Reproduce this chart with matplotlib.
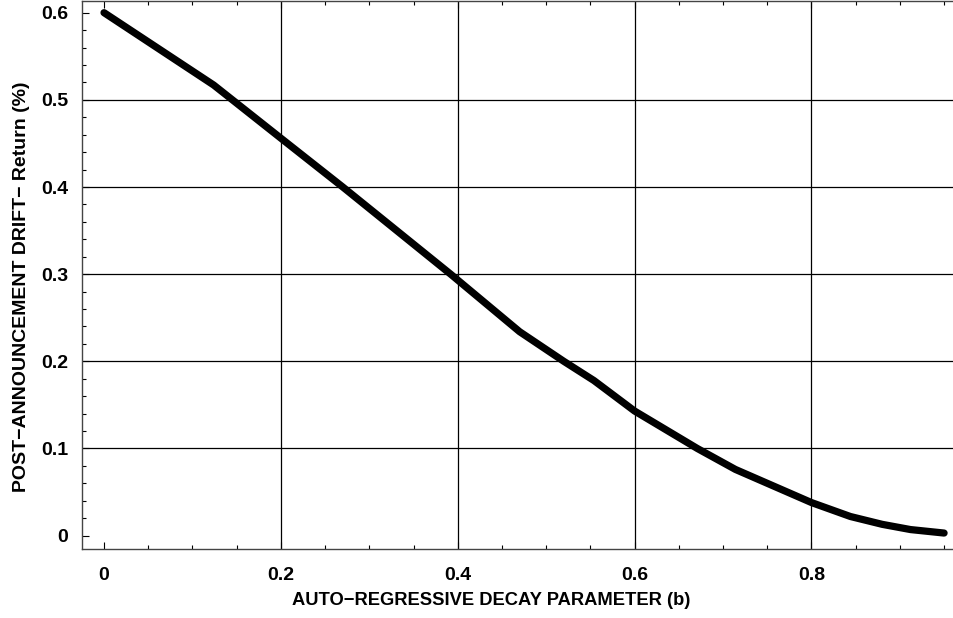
"""Post-announcement drift vs auto-regressive decay parameter (b)."""
import matplotlib
matplotlib.use("Agg")
import matplotlib.pyplot as plt
from matplotlib.ticker import MultipleLocator

plt.rcParams["font.family"] = ["Liberation Sans", "DejaVu Sans"]

# values
decay_b = [0.0, 0.124, 0.2, 0.27, 0.392, 0.47, 0.52, 0.554, 0.6,
           0.671, 0.714, 0.8, 0.844, 0.88, 0.912, 0.95]
drift_pct = [0.600, 0.517, 0.456, 0.400, 0.300, 0.234, 0.200, 0.178, 0.143,
             0.100, 0.076, 0.038, 0.022, 0.013, 0.007, 0.003]

x_ticks = [0, 0.2, 0.4, 0.6, 0.8]
y_ticks = [0, 0.1, 0.2, 0.3, 0.4, 0.5, 0.6]
x_ticklabels = ["0", "0.2", "0.4", "0.6", "0.8"]
y_ticklabels = ["0", "0.1", "0.2", "0.3", "0.4", "0.5", "0.6"]

W, H = 954, 618
fig = plt.figure(figsize=(W / 100, H / 100), dpi=100)
ax_w = 1 - 82 / W + 0.01
ax = fig.add_axes([82 / W, 1 - 549 / H, ax_w, 548 / H])

# interior grid lines only
for xv in x_ticks[1:]:
    ax.axvline(xv, color="black", lw=0.9, zorder=1)
for yv in y_ticks[1:-1]:
    ax.axhline(yv, color="black", lw=0.9, zorder=1)

ax.plot(decay_b, drift_pct, color="black", lw=5.2, solid_capstyle="round",
        solid_joinstyle="round", zorder=3)

ax.set_xlim(-0.0249, 0.972)
ax.set_ylim(-0.0153, 0.6134)
ax.set_xticks(x_ticks)
ax.set_xticklabels(x_ticklabels)
ax.set_yticks(y_ticks)
ax.set_yticklabels(y_ticklabels)
ax.xaxis.set_minor_locator(MultipleLocator(0.05))
ax.yaxis.set_minor_locator(MultipleLocator(0.02))
ax.tick_params(which="both", direction="in", top=True, right=False,
               width=0.8, color="black")
ax.tick_params(which="major", length=5)
ax.tick_params(which="minor", length=3)
ax.tick_params(axis="x", which="major", pad=13, labelsize=14)
ax.tick_params(axis="y", which="major", pad=10, labelsize=14)
for lab in ax.get_xticklabels() + ax.get_yticklabels():
    lab.set_fontweight("bold")

ax.spines["right"].set_visible(False)
for s in ("left", "bottom", "top"):
    ax.spines[s].set_linewidth(1.0)
    ax.spines[s].set_color("#444444")

ax.set_xlabel("AUTO\u2212REGRESSIVE DECAY PARAMETER (b)", fontsize=13.2,
              fontweight="bold")
ax.xaxis.set_label_coords((491 - 82) / (ax_w * W), -43 / 548)
ax.set_ylabel("POST\u2212ANNOUNCEMENT DRIFT\u2212 Return (%)", fontsize=14,
              fontweight="bold")
ax.yaxis.set_label_coords(-52 / (ax_w * W), (549 - 287) / 548)

fig.savefig("out.png", dpi=100)
